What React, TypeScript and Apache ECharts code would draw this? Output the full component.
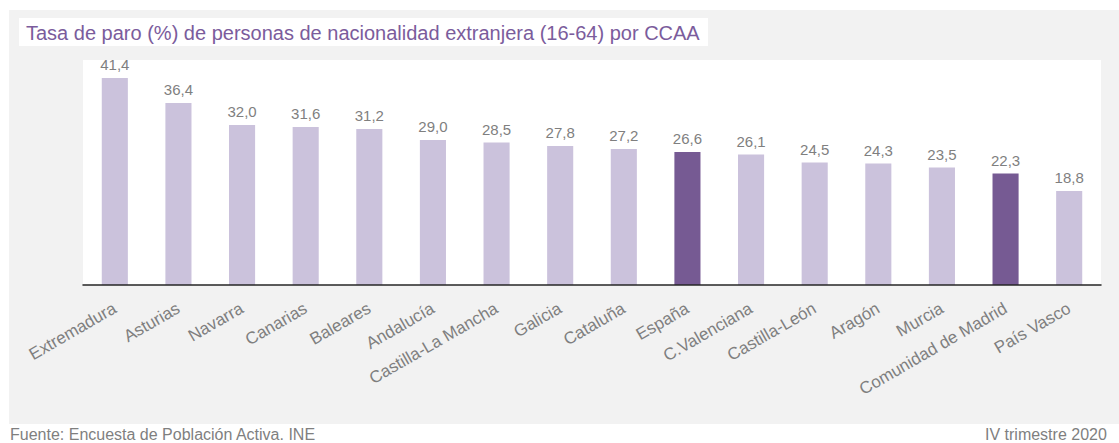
import React, { useEffect, useRef } from "react";
import * as echarts from "echarts";

const categories = [
  "Extremadura", "Asturias", "Navarra", "Canarias", "Baleares", "Andalucía",
  "Castilla-La Mancha", "Galicia", "Cataluña", "España", "C.Valenciana",
  "Castilla-León", "Aragón", "Murcia", "Comunidad de Madrid", "País Vasco",
];
const values = [41.4, 36.4, 32.0, 31.6, 31.2, 29.0, 28.5, 27.8, 27.2, 26.6, 26.1, 24.5, 24.3, 23.5, 22.3, 18.8];
const highlighted = ["España", "Comunidad de Madrid"];

const title = "Tasa de paro (%) de personas de nacionalidad extranjera (16-64) por CCAA";
const source = "Fuente: Encuesta de Población Activa. INE";
const period = "IV trimestre 2020";

const LIGHT = "#cbc2dc";
const DARK = "#765a93";
const GRAY_TEXT = "#7f7f7f";
const FONT = "'Liberation Sans', Arial, sans-serif";

export default function App() {
  const ref = useRef<HTMLDivElement>(null);
  useEffect(() => {
    document.body.style.margin = "0";
    const chart = echarts.init(ref.current!, null, { renderer: "svg" });
    chart.setOption({
      animation: false,
      backgroundColor: "#ffffff",
      textStyle: { fontFamily: FONT },
      graphic: [
        { type: "rect", z: -30, shape: { x: 9, y: 10, width: 1120, height: 414 }, style: { fill: "#f2f2f2" } },
        { type: "rect", z: -20, shape: { x: 19, y: 18, width: 689, height: 28 }, style: { fill: "#ffffff" } },
        { type: "rect", z: -20, shape: { x: 83, y: 60, width: 1018, height: 225 }, style: { fill: "#ffffff" } },
        { type: "text", z: 10, x: 26, y: 33, style: { text: title, font: `20px ${FONT}`, fill: "#7b5c9c", verticalAlign: "middle" } },
        { type: "text", z: 10, x: 10, y: 434, style: { text: source, font: `16px ${FONT}`, fill: GRAY_TEXT, verticalAlign: "middle" } },
        { type: "text", z: 10, x: 985, y: 434, style: { text: period, font: `16px ${FONT}`, fill: GRAY_TEXT, verticalAlign: "middle" } },
      ],
      grid: { left: 83, right: 18, top: 60, bottom: 158, show: false },
      xAxis: {
        type: "category",
        data: categories,
        z: 5,
        axisLine: { lineStyle: { color: "#262626", width: 1.5 } },
        axisTick: { show: false },
        axisLabel: { interval: 0, rotate: 30, margin: 22, fontSize: 17, color: GRAY_TEXT, fontFamily: FONT },
      },
      yAxis: {
        type: "value",
        min: 0,
        max: 45,
        show: false,
        splitLine: { show: false },
      },
      series: [
        {
          type: "bar",
          barWidth: "41%",
          data: values.map((v, i) => ({
            value: v,
            itemStyle: { color: highlighted.includes(categories[i]) ? DARK : LIGHT },
          })),
          label: {
            show: true,
            position: "top",
            distance: 6,
            fontSize: 15,
            color: GRAY_TEXT,
            fontFamily: FONT,
            formatter: (p: any) => Number(p.value).toFixed(1).replace(".", ","),
          },
        },
      ],
    });
    return () => chart.dispose();
  }, []);
  return <div ref={ref} style={{ width: 1119, height: 443 }} />;
}
